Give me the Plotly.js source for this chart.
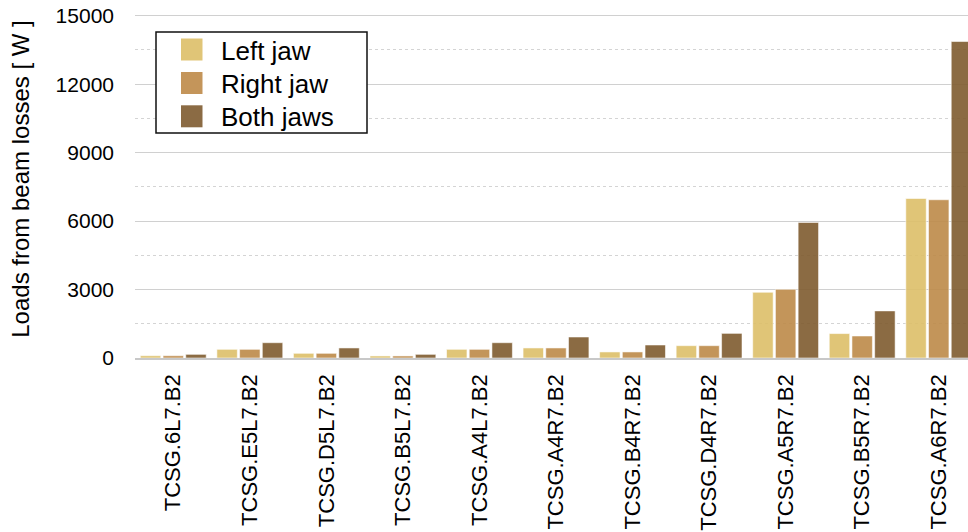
<!DOCTYPE html>
<html>
<head>
<meta charset="utf-8">
<script src="https://cdn.plot.ly/plotly-3.0.1.min.js"></script>
<style>
  html, body { margin: 0; padding: 0; overflow: hidden; background: #fff; }
  #chart { width: 980px; height: 532px; }
</style>
</head>
<body>
<div id="chart"></div>
<script>
// Collimator names (TCSG, beam 2)
const collimators = [
  'TCSG.6L7.B2', 'TCSG.E5L7.B2', 'TCSG.D5L7.B2', 'TCSG.B5L7.B2',
  'TCSG.A4L7.B2', 'TCSG.A4R7.B2', 'TCSG.B4R7.B2', 'TCSG.D4R7.B2',
  'TCSG.A5R7.B2', 'TCSG.B5R7.B2', 'TCSG.A6R7.B2'
];

// Loads from beam losses [W]
const leftJaw  = [100, 380, 205, 90, 380, 440, 265, 540, 2880, 1070, 6990];
const rightJaw = [100, 380, 205, 90, 380, 440, 265, 540, 3010, 965, 6935];
const bothJaws = [160, 670, 440, 160, 670, 920, 570, 1080, 5940, 2065, 13870];

const seriesNames = ['Left jaw', 'Right jaw', 'Both jaws'];
const seriesData = [leftJaw, rightJaw, bothJaws];
const seriesColors = ['rgba(221,191,104,0.9)', 'rgba(189,137,72,0.9)', 'rgba(126,91,47,0.9)'];
const swatchColors = ['#e0c577', '#c4955a', '#8b6b44'];

const FONT = 'Liberation Sans, Arial, Helvetica, sans-serif';

const traces = seriesNames.map((name, i) => ({
  type: 'bar',
  name: name,
  x: collimators,
  y: seriesData[i],
  marker: {
    color: seriesColors[i],
    line: { color: 'rgba(255,255,255,0.55)', width: 1 }
  },
  showlegend: false,
  hoverinfo: 'x+y+name'
}));

// plot area in pixels, used to place the boxed legend
const W = 980, H = 532;
const M = { l: 135, r: 3, t: 0, b: 174 };
const pw = W - M.l - M.r, ph = H - M.t - M.b;
const px = x => (x - M.l) / pw;
const py = y => (H - M.b - y) / ph;

const shapes = [{
  type: 'rect', xref: 'paper', yref: 'paper',
  x0: px(156), x1: px(367), y0: py(133), y1: py(32),
  line: { color: '#111', width: 1.5 }, fillcolor: 'rgba(255,255,255,1)', layer: 'above'
}];
const annotations = [];
const rowCenters = [49.5, 83, 116.3];
seriesNames.forEach((name, i) => {
  const cy = rowCenters[i];
  shapes.push({
    type: 'rect', xref: 'paper', yref: 'paper',
    x0: px(181), x1: px(202.5), y0: py(cy + 11), y1: py(cy - 11),
    line: { width: 0 }, fillcolor: swatchColors[i], layer: 'above'
  });
  annotations.push({
    xref: 'paper', yref: 'paper', x: px(219), y: py(cy + 1),
    xanchor: 'left', yanchor: 'middle', showarrow: false,
    text: name, font: { family: FONT, size: 26, color: '#000' }
  });
});

const layout = {
  width: W, height: H,
  margin: M,
  paper_bgcolor: '#fff', plot_bgcolor: '#fff',
  barmode: 'group',
  bargap: 0.11,
  bargroupgap: 0.1,
  font: { family: FONT, color: '#000' },
  xaxis: {
    type: 'category',
    range: [-0.5, 10.5],
    tickangle: -90,
    tickfont: { family: FONT, size: 22, color: '#000' },
    ticks: '',
    ticklabelstandoff: 6,
    showgrid: false,
    showline: true,
    linecolor: '#c8c8c8',
    linewidth: 1.5,
    zeroline: false,
    automargin: false
  },
  yaxis: {
    range: [0, 15690],
    tickmode: 'array',
    tickvals: [0, 3000, 6000, 9000, 12000, 15000],
    ticktext: ['0', '3000', '6000', '9000', '12000', '15000'],
    tickfont: { family: FONT, size: 21, color: '#000' },
    ticks: '',
    ticklabelstandoff: 20,
    showgrid: true,
    gridcolor: '#d0d0d0',
    gridwidth: 1,
    minor: { dtick: 1500, tick0: 0, showgrid: true, gridcolor: '#d4d4d4', griddash: 'dot', gridwidth: 1 },
    zeroline: false,
    showline: false,
    automargin: false,
    title: {
      text: 'Loads from beam losses [ W ]',
      font: { family: FONT, size: 24, color: '#000' },
      standoff: 19
    }
  },
  shapes: shapes,
  annotations: annotations
};

Plotly.newPlot('chart', traces, layout, { displayModeBar: false, staticPlot: true });
</script>
</body>
</html>
